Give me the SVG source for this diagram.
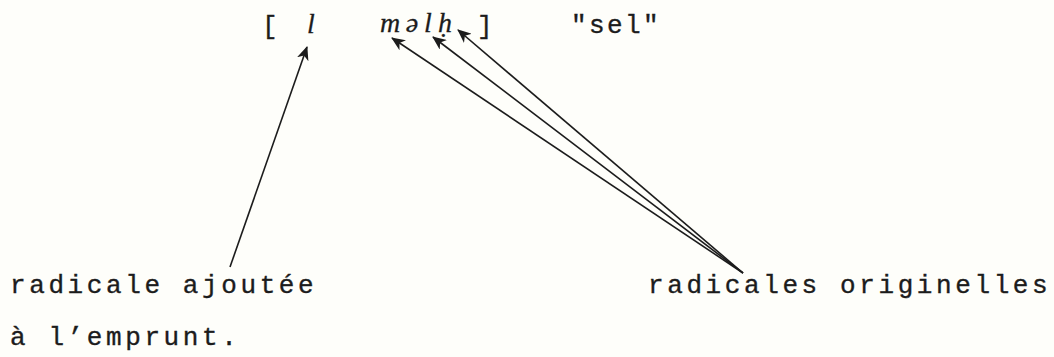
<svg xmlns="http://www.w3.org/2000/svg" width="1054" height="357" viewBox="0 0 1054 357">
  <style>
    .mono { font-family: "Liberation Mono", "DejaVu Sans Mono", monospace; font-size: 26px; fill: #1c1c1c; stroke: #1c1c1c; stroke-width: 0.35px; letter-spacing: 3.6px; }
    .it { font-family: "Liberation Serif", "DejaVu Serif", serif; font-style: italic; font-size: 28px; fill: #1c1c1c; stroke: #1c1c1c; stroke-width: 0.3px; text-anchor: middle; }
    .conn { stroke: #1c1c1c; stroke-width: 1.6; fill: none; marker-end: url(#head); }
  </style>
  <defs>
    <marker id="head" markerUnits="userSpaceOnUse" markerWidth="14" markerHeight="12" viewBox="0 0 14 12" refX="13" refY="6" orient="auto">
      <path d="M0,0 L14,6 L0,12 L4,6 Z" fill="#1c1c1c"/>
    </marker>
  </defs>
  <rect width="1054" height="357" fill="#fefefa"/>

  <g id="form">
    <text class="mono" x="262" y="34">[</text>
    <text class="it" x="311" y="33">l</text>
    <text class="it" x="390" y="32">m</text>
    <text class="it" x="412" y="32">ə</text>
    <text class="it" x="428" y="32">l</text>
    <text class="it" x="445" y="32">ḥ</text>
    <text class="mono" x="477" y="34">]</text>
    <text class="mono" x="571" y="33" style="letter-spacing:2.4px">"sel"</text>
  </g>

  <g id="label-added">
    <text class="mono" x="10" y="293">radicale ajoutée</text>
    <text class="mono" x="10" y="345">à l’emprunt.</text>
  </g>

  <g id="label-original">
    <text class="mono" x="648" y="293">radicales originelles</text>
  </g>

  <g id="connectors">
    <line class="conn" x1="230" y1="267" x2="307" y2="47"/>
    <line class="conn" x1="743" y1="273" x2="392" y2="38"/>
    <line class="conn" x1="743" y1="273" x2="433" y2="37"/>
    <line class="conn" x1="743" y1="273" x2="458" y2="30"/>
  </g>
</svg>
